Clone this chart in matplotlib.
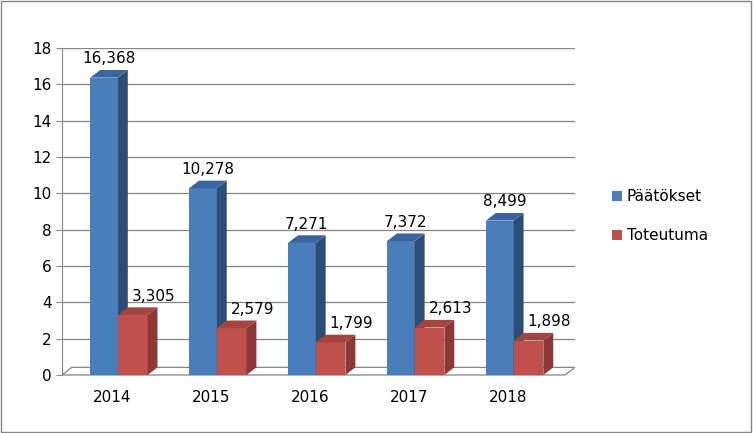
import matplotlib
matplotlib.use("Agg")
import matplotlib.pyplot as plt
from matplotlib.patches import Polygon, Rectangle
import numpy as np

years = ["2014", "2015", "2016", "2017", "2018"]
paatokset = [16.368, 10.278, 7.271, 7.372, 8.499]
toteutuma = [3.305, 2.579, 1.799, 2.613, 1.898]

fig = plt.figure(figsize=(7.53, 4.33), dpi=100)
ax = fig.add_axes([62 / 753, 1 - 375 / 433, (575 - 62) / 753, (375 - 48) / 433])
ax.set_xlim(-0.505, 4.68)
ax.set_ylim(0, 18)
ax.set_yticks(range(0, 19, 2))
ax.set_xticks([])
for s in ["top", "right", "bottom"]:
    ax.spines[s].set_visible(False)
ax.spines["left"].set_color("#868686")
ax.tick_params(axis="y", labelsize=11, length=4, color="#868686")
ax.yaxis.grid(True, color="#868686", linewidth=0.9)
ax.set_axisbelow(True)

dx, dy = 0.1, 0.42
# floor
ax.add_patch(Polygon([(-0.505, 0), (4.68 - dx, 0), (4.68, dy), (-0.505 + dx, dy)],
                     closed=True, facecolor="none", edgecolor="#868686", lw=0.9, clip_on=False))


def bar3d(x0, w, h, front, side, top):
    ax.add_patch(Rectangle((x0, 0), w, h, facecolor=front, edgecolor="none", zorder=3))
    ax.add_patch(Polygon([(x0 + w, 0), (x0 + w + dx, dy), (x0 + w + dx, h + dy), (x0 + w, h)],
                         closed=True, facecolor=side, edgecolor="none", zorder=3))
    ax.add_patch(Polygon([(x0, h), (x0 + dx, h + dy), (x0 + w + dx, h + dy), (x0 + w, h)],
                         closed=True, facecolor=top, edgecolor="none", zorder=3))


for i in range(len(years)):
    bar3d(i - 0.22, 0.28, paatokset[i], "#4a7ebb", "#2c4d75", "#3a65a0")
    bar3d(i + 0.06, 0.30, toteutuma[i], "#c0504d", "#8c3836", "#a44441")
    ax.text(i - 0.03, paatokset[i] + dy + 0.2, f"{paatokset[i]:,.3f}".replace(".", ","),
            ha="center", va="bottom", fontsize=11, zorder=4)
    ax.text(i + 0.42, toteutuma[i] + dy + 0.2, f"{toteutuma[i]:,.3f}".replace(".", ","),
            ha="center", va="bottom", fontsize=11, zorder=4)
    ax.text(i, -0.8, years[i], ha="center", va="top", fontsize=11)

# legend
fig.patches.append(Rectangle((612 / 753, 1 - 201 / 433), 10 / 753, 10 / 433,
                             transform=fig.transFigure, facecolor="#4a7ebb"))
fig.text(627 / 753, 1 - 196 / 433, "Päätökset", va="center", fontsize=11)
fig.patches.append(Rectangle((612 / 753, 1 - 240 / 433), 10 / 753, 10 / 433,
                             transform=fig.transFigure, facecolor="#c0504d"))
fig.text(627 / 753, 1 - 235 / 433, "Toteutuma", va="center", fontsize=11)

fig.patches.append(Rectangle((0.001, 0.002), 0.997, 0.996, transform=fig.transFigure,
                             facecolor="none", edgecolor="#868686", lw=1))
fig.savefig("out.png", dpi=100)
